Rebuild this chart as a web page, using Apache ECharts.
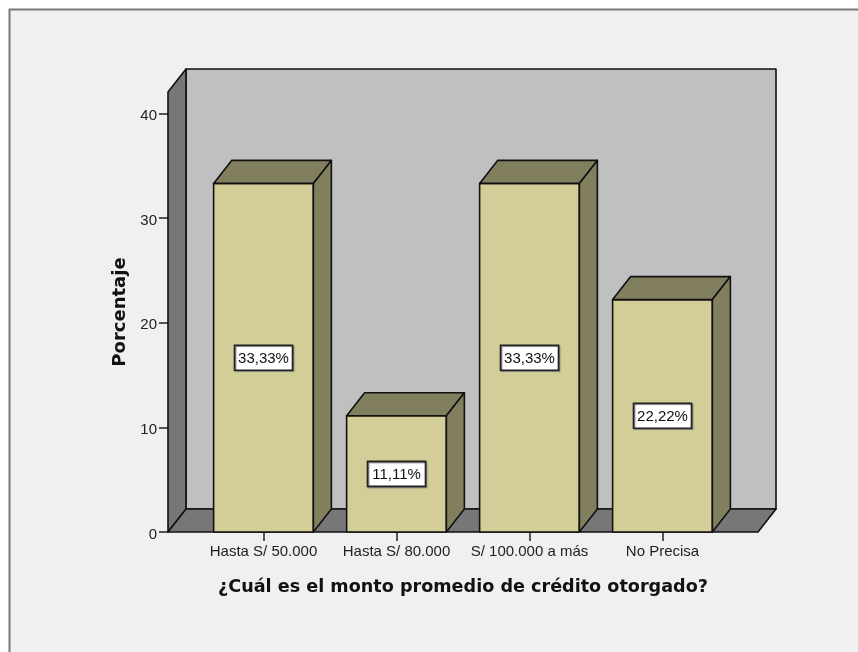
<!DOCTYPE html>
<html>
<head>
<meta charset="utf-8">
<style>html,body{margin:0;padding:0;background:#fff}#c{width:858px;height:652px}</style>
<script src="https://cdn.jsdelivr.net/npm/echarts@6/dist/echarts.min.js"></script>
</head>
<body>
<div id="c"></div>
<script>
const categories = ['Hasta S/ 50.000', 'Hasta S/ 80.000', 'S/ 100.000 a más', 'No Precisa'];
const percentages = [33.33, 11.11, 33.33, 22.22];
const yTicks = [0, 10, 20, 30, 40];
const xAxisTitle = '¿Cuál es el monto promedio de crédito otorgado?';
const yAxisTitle = 'Porcentaje';

const DX = 18, DY = 23, OVER = 29, EDGE = '#111', LW = 1.6;
const poly = (points, fill) => ({ type: 'polygon', shape: { points }, style: { fill, stroke: EDGE, lineWidth: LW, lineJoin: 'round' } });

const chart = echarts.init(document.getElementById('c'));
chart.setOption({
  animation: false,
  backgroundColor: '#fff',
  graphic: [{ type: 'rect', z: -10, shape: { x: 9.5, y: 9.5, width: 900, height: 700 }, style: { fill: '#f0f0f0', stroke: '#777', lineWidth: 2 } }],
  grid: { left: 197, top: 92, width: 532, height: 440 },
  xAxis: {
    type: 'category', data: categories,
    axisLine: { show: false },
    axisTick: { show: true, alignWithLabel: true, length: 9, lineStyle: { color: '#222', width: 1.5 } },
    axisLabel: { color: '#222', fontFamily: 'Liberation Sans', fontSize: 15, margin: 12, interval: 0 },
    name: xAxisTitle, nameLocation: 'middle', nameGap: 46,
    nameTextStyle: { color: '#111', fontFamily: 'DejaVu Sans', fontWeight: 'bold', fontSize: 17.6 }
  },
  yAxis: {
    type: 'value', min: 0, max: 42.07, offset: 29,
    splitLine: { show: false },
    axisLine: { show: false },
    axisTick: { show: true, length: 9, customValues: yTicks, lineStyle: { color: '#222', width: 1.5 } },
    axisLabel: {
      margin: 11, customValues: yTicks,
      formatter: (v) => '{a|' + v + '}',
      rich: { a: { color: '#222', fontFamily: 'Liberation Sans', fontSize: 15, padding: [5, 0, 0, 0] } }
    },
    name: yAxisTitle, nameLocation: 'middle', nameGap: 39,
    nameTextStyle: { color: '#111', fontFamily: 'DejaVu Sans', fontWeight: 'bold', fontSize: 18 }
  },
  series: [
    {
      type: 'custom', silent: true, z: 1,
      data: [[0, 0]],
      encode: { x: 0, y: 1 },
      renderItem(params) {
        const g = params.coordSys;
        const l = g.x - OVER, r = g.x + g.width + OVER, b = g.y + g.height, t = g.y;
        return { type: 'group', children: [
          poly([[l + DX, t - DY], [r + DX, t - DY], [r + DX, b - DY], [l + DX, b - DY]], '#c0c0c0'),
          poly([[l, t], [l + DX, t - DY], [l + DX, b - DY], [l, b]], '#777777'),
          poly([[l, b], [l + DX, b - DY], [r + DX, b - DY], [r, b]], '#777777')
        ] };
      }
    },
    {
      type: 'custom', silent: true, z: 2,
      data: percentages.map((v, i) => [i, v]),
      encode: { x: 0, y: 1 },
      renderItem(params, api) {
        const v = api.value(1);
        const w = api.size([1, 0])[0] * 0.75;
        const top = api.coord([api.value(0), v]);
        const base = api.coord([api.value(0), 0]);
        const mid = api.coord([api.value(0), v / 2]);
        const l = top[0] - w / 2, r = top[0] + w / 2;
        const text = v.toFixed(2).replace('.', ',') + '%';
        return { type: 'group', children: [
          poly([[l, base[1]], [r, base[1]], [r, top[1]], [l, top[1]]], '#d3ce97'),
          poly([[l, top[1]], [l + DX, top[1] - DY], [r + DX, top[1] - DY], [r, top[1]]], '#817f5d'),
          poly([[r, base[1]], [r + DX, base[1] - DY], [r + DX, top[1] - DY], [r, top[1]]], '#817f5d'),
          { type: 'rect', shape: { x: mid[0] - 29, y: mid[1] - 12.5, width: 58, height: 25 },
            style: { fill: '#fff', stroke: '#222', lineWidth: 1.6, shadowColor: '#777', shadowOffsetX: 1, shadowOffsetY: 1, shadowBlur: 1 } },
          { type: 'text', style: { x: mid[0], y: mid[1] + 1, text, fill: '#111', font: '15px "Liberation Sans"', align: 'center', verticalAlign: 'middle' } }
        ] };
      }
    }
  ]
});
</script>
</body>
</html>
